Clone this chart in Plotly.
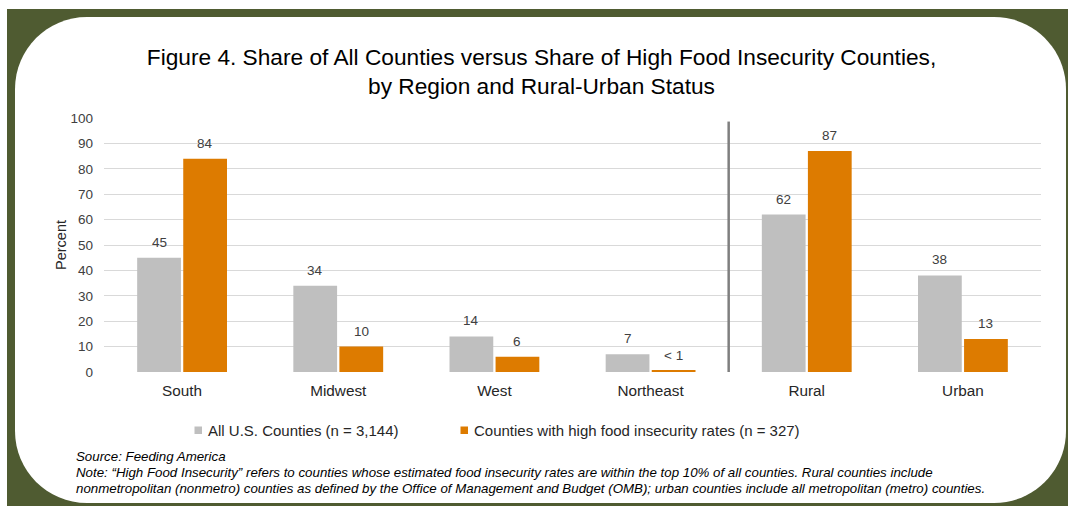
import plotly.graph_objects as go

# ---- data -------------------------------------------------------------
categories = ["South", "Midwest", "West", "Northeast", "Rural", "Urban"]
all_counties = [45, 34, 14, 7, 62, 38]
high_fi_counties = [84, 10, 6, 0.5, 87, 13]
all_labels = ["45", "34", "14", "7", "62", "38"]
high_fi_labels = ["84", "10", "6", "< 1", "87", "13"]
y_ticks = [0, 10, 20, 30, 40, 50, 60, 70, 80, 90, 100]

series_names = ["All U.S. Counties (n = 3,144)",
                "Counties with high food insecurity rates (n = 327)"]

# ---- styling ----------------------------------------------------------
FONT = "Arial, Liberation Sans, sans-serif"
GRAY = "#bfbfbf"
ORANGE = "#dd7b00"
FRAME = "#4f5b31"

FIG_W, FIG_H = 1068, 508
PL, PR, PT, PB = 104, 27, 118, 136          # plot-area margins (px)
PW = FIG_W - PL - PR
PH = FIG_H - PT - PB


def fx(px):
    """figure pixel x -> paper x"""
    return (px - PL) / PW


def fy(py):
    """figure pixel y (from top) -> paper y"""
    return 1 - (py - PT) / PH


def rounded_rect_path(x0, y0, x1, y1, r):
    k = 0.5523 * r
    pts = [
        ("M", [(x0 + r, y0)]),
        ("L", [(x1 - r, y0)]),
        ("C", [(x1 - r + k, y0), (x1, y0 + r - k), (x1, y0 + r)]),
        ("L", [(x1, y1 - r)]),
        ("C", [(x1, y1 - r + k), (x1 - r + k, y1), (x1 - r, y1)]),
        ("L", [(x0 + r, y1)]),
        ("C", [(x0 + r - k, y1), (x0, y1 - r + k), (x0, y1 - r)]),
        ("L", [(x0, y0 + r)]),
        ("C", [(x0, y0 + r - k), (x0 + r - k, y0), (x0 + r, y0)]),
    ]
    out = []
    for cmd, coords in pts:
        out.append(cmd + " ".join(f"{fx(a):.5f},{fy(b):.5f}" for a, b in coords))
    return " ".join(out) + " Z"


fig = go.Figure()
fig.add_trace(go.Bar(x=categories, y=all_counties, name=series_names[0],
                     marker=dict(color=GRAY, line=dict(width=0)),
                     showlegend=False))
fig.add_trace(go.Bar(x=categories, y=high_fi_counties, name=series_names[1],
                     marker=dict(color=ORANGE, line=dict(width=0)),
                     showlegend=False))

# value labels above each bar
BAR_OFFSET = 0.1476
annotations = []
for i, cat in enumerate(categories):
    for vals, labels, sign in ((all_counties, all_labels, -1),
                               (high_fi_counties, high_fi_labels, 1)):
        annotations.append(dict(
            x=i + sign * BAR_OFFSET, y=vals[i], xref="x", yref="y",
            text=labels[i], showarrow=False, yanchor="bottom", yshift=6,
            font=dict(family=FONT, size=13.5, color="#404040")))

# legend: small colour swatch followed by the series name
shapes = []
for name, color, text_left in ((series_names[0], GRAY, 205.5),
                               (series_names[1], ORANGE, 471.5)):
    shapes.append(dict(type="rect", xref="paper", yref="paper",
                       x0=fx(text_left - 11), x1=fx(text_left - 3.5),
                       y0=fy(434), y1=fy(426.5),
                       fillcolor=color, line=dict(width=0)))
    annotations.append(dict(
        x=fx(text_left), y=fy(430), xref="paper", yref="paper", text=name,
        showarrow=False, xanchor="left", yanchor="middle",
        font=dict(family=FONT, size=15, color="#262626")))

# source and note lines
notes = [
    "Source: Feeding America",
    "Note: \u201cHigh Food Insecurity\u201d refers to counties whose estimated food insecurity rates are within the top 10% of all counties. Rural counties include",
    "nonmetropolitan (nonmetro) counties as defined by the Office of Management and Budget (OMB); urban counties include all metropolitan (metro) counties.",
]
for line, py in zip(notes, [456.5, 472.5, 488.5]):
    annotations.append(dict(
        x=fx(74), y=fy(py), xref="paper", yref="paper", text=f"<i>{line}</i>",
        showarrow=False, xanchor="left", yanchor="middle",
        font=dict(family=FONT, size=13.3, color="#000000")))

shapes = [
    # dark frame and rounded white panel
    dict(type="rect", xref="paper", yref="paper", layer="below",
         x0=fx(7), x1=fx(1068), y0=fy(9), y1=fy(506),
         fillcolor=FRAME, line=dict(width=0)),
    dict(type="path", xref="paper", yref="paper", layer="below",
         path=rounded_rect_path(15, 17, 1066, 503, 72),
         fillcolor="#ffffff", line=dict(width=0)),
    # divider between region and rural-urban groups
    dict(type="line", xref="x", yref="y", x0=3.5, x1=3.5, y0=0, y1=98.6,
         line=dict(color="#7f7f7f", width=2.5), layer="above"),
] + shapes

fig.update_layout(
    width=FIG_W, height=FIG_H,
    margin=dict(l=PL, r=PR, t=PT, b=PB, pad=0),
    paper_bgcolor="#ffffff", plot_bgcolor="rgba(0,0,0,0)",
    barmode="group", bargap=0.41, bargroupgap=0.05,
    font=dict(family=FONT, color="#000000"),
    title=dict(
        text="Figure 4. Share of All Counties versus Share of High Food Insecurity Counties,<br>by Region and Rural-Urban Status",
        x=541.5 / FIG_W, xref="container", xanchor="center",
        y=1 - 64.5 / FIG_H, yref="container", yanchor="middle",
        font=dict(family=FONT, size=22.7, color="#000000")),
    xaxis=dict(showgrid=False, zeroline=False, showline=False, ticks="",
               ticklabelstandoff=8,
               tickfont=dict(family=FONT, size=15.3, color="#262626")),
    yaxis=dict(range=[0, 100], tickvals=y_ticks, showgrid=True,
               gridcolor="#d9d9d9", gridwidth=1, zeroline=False, showline=False,
               ticks="", ticklabelstandoff=10,
               tickfont=dict(family=FONT, size=13.5, color="#404040"),
               title=dict(text="Percent", standoff=0,
                          font=dict(family=FONT, size=14.5, color="#262626"))),
    showlegend=False,
    annotations=annotations,
    shapes=shapes,
)

fig.write_html("out.html")
